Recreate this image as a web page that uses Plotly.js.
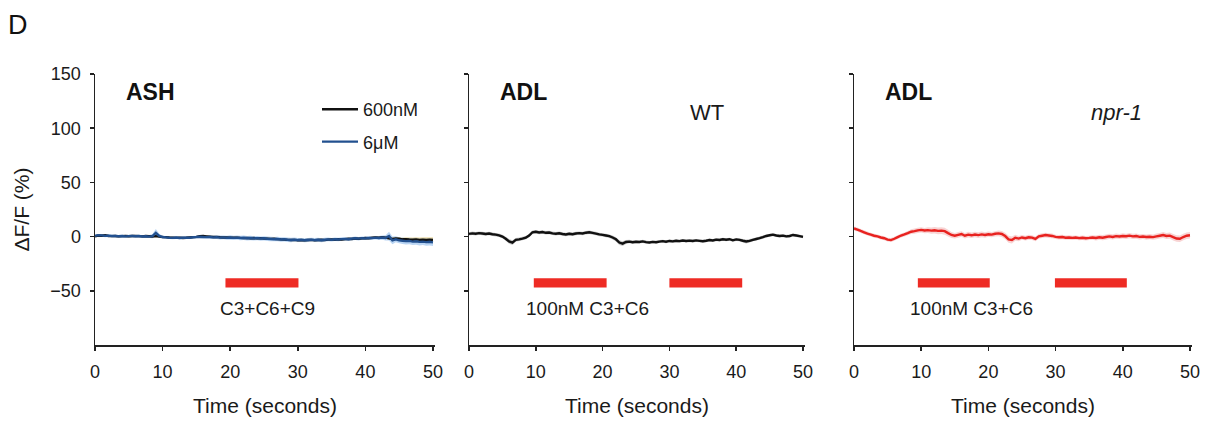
<!DOCTYPE html>
<html><head><meta charset="utf-8">
<script src="https://cdn.plot.ly/plotly-3.0.1.min.js"></script>
<style>html,body{margin:0;padding:0;background:#fff;} #chart{width:1206px;height:421px;}</style>
</head><body><div id="chart"></div>
<script>
// ---------- data ----------
const time = [
  0,0.5,1,1.5,2,2.5,3,3.5,4,4.5,
  5,5.5,6,6.5,7,7.5,8,8.5,9,9.5,
  10,10.5,11,11.5,12,12.5,13,13.5,14,14.5,
  15,15.5,16,16.5,17,17.5,18,18.5,19,19.5,
  20,20.5,21,21.5,22,22.5,23,23.5,24,24.5,
  25,25.5,26,26.5,27,27.5,28,28.5,29,29.5,
  30,30.5,31,31.5,32,32.5,33,33.5,34,34.5,
  35,35.5,36,36.5,37,37.5,38,38.5,39,39.5,
  40,40.5,41,41.5,42,42.5,43,43.5,44,44.5,
  45,45.5,46,46.5,47,47.5,48,48.5,49,49.5,
  50];

// Panel 1: ASH, 600nM (black)
const ash600 = [
  0.3,1.0,0.8,1.2,0.6,0.4,0.5,0.2,0.4,0.6,
  0.3,0.5,0.7,0.4,0.2,0.5,0.3,0.1,0.4,0.0,
  -0.3,-0.5,-0.8,-1.0,-1.2,-1.0,-1.3,-1.1,-0.8,-0.5,
  -0.2,0.3,0.5,0.2,-0.1,-0.4,-0.3,-0.6,-0.8,-0.7,
  -0.9,-1.1,-0.9,-1.2,-1.4,-1.2,-1.5,-1.3,-1.6,-1.4,
  -1.7,-1.9,-2.1,-2.0,-2.3,-2.6,-2.8,-3.0,-3.2,-3.0,
  -3.3,-3.1,-3.4,-3.2,-3.0,-3.3,-3.1,-2.9,-3.2,-2.8,
  -2.6,-2.9,-2.5,-2.7,-2.3,-2.0,-2.2,-1.8,-2.0,-1.6,
  -1.3,-1.5,-1.1,-0.8,-1.0,-0.6,-0.9,-1.5,-2.2,-1.8,
  -2.0,-2.5,-2.3,-2.7,-2.9,-2.6,-3.0,-2.8,-3.1,-2.9,
  -3.0];
const ash600Sem = [
  0.8,0.8,0.8,0.8,0.8,0.8,0.8,0.8,0.8,0.8,
  0.8,0.8,0.8,0.8,0.8,0.8,0.8,0.8,0.8,0.8,
  0.8,0.8,0.8,0.8,0.8,0.8,0.8,0.8,0.8,0.8,
  0.8,0.8,0.8,0.8,0.8,0.8,0.8,0.8,0.8,0.8,
  0.8,0.8,0.8,0.8,0.8,0.8,0.8,0.8,0.8,0.8,
  0.8,0.8,0.8,0.8,0.8,0.8,0.8,0.8,0.8,0.8,
  0.8,0.8,0.8,0.8,0.8,0.8,0.8,0.8,0.8,0.8,
  0.8,0.8,0.8,0.8,0.8,0.8,0.8,0.8,0.8,0.8,
  0.8,0.8,0.8,0.8,0.8,0.8,1.0,1.2,1.2,1.2,
  1.2,1.4,1.6,1.8,2.0,2.0,2.2,2.2,2.4,2.4,
  2.4];

// Panel 1: ASH, 6µM (blue)
const ash6u = [
  0.6,1.3,1.1,0.7,0.9,0.5,0.6,0.3,0.5,0.2,
  0.4,0.6,0.3,0.5,0.1,0.3,0.0,0.4,3.5,0.6,
  -0.4,-0.7,-1.0,-1.2,-0.9,-1.3,-1.1,-0.9,-1.0,-0.6,
  -0.4,-0.1,-0.3,-0.5,-0.4,-0.7,-0.5,-0.9,-0.7,-1.0,
  -0.8,-1.2,-1.0,-1.3,-1.1,-1.5,-1.3,-1.6,-1.4,-1.8,
  -1.6,-2.0,-2.2,-2.4,-2.2,-2.7,-2.5,-2.9,-3.1,-2.8,
  -3.2,-3.0,-3.4,-3.1,-2.8,-3.2,-2.9,-3.3,-2.9,-2.6,
  -2.9,-2.5,-2.7,-2.3,-2.1,-2.4,-1.9,-1.6,-1.9,-1.4,
  -1.6,-1.2,-1.4,-1.0,-1.3,-0.9,-1.2,0.5,-3.5,-2.5,
  -3.4,-3.8,-4.2,-4.0,-4.6,-4.3,-4.9,-4.6,-5.1,-4.8,
  -5.3];
const ash6uSem = [
  1.2,1.2,1.2,1.2,1.2,1.2,1.2,1.2,1.2,1.2,
  1.2,1.2,1.2,1.2,1.2,1.2,1.4,2.0,3.5,2.0,
  1.2,1.2,1.2,1.2,1.2,1.2,1.2,1.2,1.2,1.2,
  1.2,1.2,1.4,1.4,1.6,1.6,1.8,1.8,1.8,1.8,
  2.0,2.0,2.0,2.0,2.0,2.0,2.0,2.0,2.0,2.0,
  2.0,2.0,2.0,2.0,2.0,2.0,2.0,2.0,2.0,2.0,
  1.8,1.8,1.8,1.8,1.8,1.8,1.8,1.8,1.8,1.8,
  1.6,1.6,1.6,1.6,1.6,1.6,1.6,1.6,1.6,1.6,
  1.6,1.6,1.6,1.6,1.8,2.0,2.4,4.0,3.5,2.8,
  2.8,3.0,3.0,3.0,3.2,3.2,3.2,3.2,3.4,3.4,
  3.4];

// Panel 2: ADL, WT (black)
const adlWT = [
  2.5,3.0,2.6,3.2,2.8,2.4,2.9,2.2,1.8,1.2,
  0.0,-2.0,-4.5,-5.5,-3.0,-2.5,-1.8,-1.0,1.0,4.0,
  4.5,3.8,4.2,3.5,3.8,3.0,2.6,3.1,2.4,2.0,
  2.6,2.2,2.8,3.2,2.9,3.6,4.0,3.4,2.8,2.0,
  1.6,1.0,0.4,-0.8,-2.5,-5.5,-6.5,-5.0,-4.6,-5.2,
  -4.8,-5.0,-4.4,-5.1,-5.4,-4.9,-5.2,-4.6,-4.2,-4.7,
  -4.0,-4.4,-3.8,-4.2,-3.6,-4.0,-3.7,-4.1,-3.5,-3.9,
  -4.3,-3.8,-3.2,-3.6,-2.8,-3.1,-2.5,-2.9,-2.4,-3.4,
  -2.6,-3.0,-3.8,-4.5,-3.9,-3.0,-2.2,-1.4,-0.5,0.6,
  1.2,1.8,1.0,0.6,0.9,0.2,0.6,1.5,1.0,0.4,
  -0.2];
const adlWTSem = [
  1.6,1.6,1.6,1.6,1.6,1.6,1.6,1.6,1.6,1.6,
  1.6,1.8,2.2,2.2,1.8,1.6,1.6,1.6,1.6,1.6,
  1.6,1.6,1.6,1.6,1.6,1.6,1.6,1.6,1.6,1.6,
  1.6,1.6,1.6,1.6,1.6,1.6,1.6,1.6,1.6,1.6,
  1.6,1.6,1.6,1.8,2.0,2.2,2.2,1.8,1.6,1.6,
  1.4,1.4,1.4,1.4,1.4,1.4,1.4,1.4,1.4,1.4,
  1.4,1.4,1.4,1.4,1.4,1.4,1.4,1.4,1.4,1.4,
  1.4,1.4,1.4,1.4,1.4,1.4,1.4,1.4,1.4,1.4,
  1.4,1.4,1.6,1.8,1.6,1.4,1.4,1.4,1.4,1.4,
  1.4,1.4,1.4,1.4,1.4,1.4,1.4,1.4,1.4,1.4,
  1.4];

// Panel 3: ADL, npr-1 (red)
const adlNpr = [
  7.5,6.5,5.2,4.0,2.8,1.8,0.8,0.2,-0.8,-1.5,
  -2.8,-3.2,-2.0,-0.5,1.0,2.0,3.2,4.5,5.0,5.8,
  6.2,5.6,6.0,5.5,5.8,5.3,5.5,5.0,3.2,1.5,
  0.8,1.6,2.4,0.8,1.8,1.2,1.9,1.4,2.0,1.5,
  2.2,1.8,2.6,3.0,2.4,0.5,-2.5,-3.2,-1.0,-1.8,
  -0.8,-1.5,-0.6,-1.0,-2.2,0.2,0.8,1.4,1.0,0.6,
  -0.2,-0.6,-0.4,-1.0,-0.8,-1.2,-0.9,-1.4,-1.1,-1.5,
  -1.2,-0.8,-1.3,-0.6,-1.0,-0.4,0.2,-0.3,0.4,0.1,
  0.6,0.3,0.9,0.2,0.5,-0.2,0.1,-0.4,-0.1,-0.5,
  0.2,0.8,1.4,0.6,0.9,-0.5,-1.8,-2.0,-0.4,0.8,
  1.2];
const adlNprSem = [
  1.8,1.8,1.8,1.8,1.8,1.8,1.8,1.8,1.8,1.8,
  1.8,1.8,1.8,1.8,1.8,1.8,2.0,2.2,2.4,2.4,
  2.4,2.4,2.6,2.8,3.0,3.2,3.2,3.2,3.2,2.8,
  2.6,2.6,2.6,2.6,2.6,2.6,2.6,2.6,2.6,2.6,
  2.4,2.4,2.4,2.6,2.8,3.0,3.2,3.2,2.8,2.4,
  2.2,2.2,2.2,2.2,2.2,2.2,2.2,2.2,2.2,2.2,
  2.0,2.0,2.0,2.0,2.0,2.0,2.0,2.0,2.0,2.0,
  2.0,2.0,2.2,2.2,2.4,2.4,2.4,2.4,2.4,2.4,
  2.4,2.4,2.4,2.4,2.4,2.4,2.4,2.4,2.4,2.4,
  2.6,2.6,2.8,2.8,2.8,3.0,3.0,3.0,3.0,3.0,
  3.0];

// stimulus periods (seconds) per panel
const stimPanel1 = [[19.3, 30.1]];
const stimPanel2 = [[9.7, 20.6], [30.0, 40.9]];
const stimPanel3 = [[9.5, 20.2], [29.9, 40.6]];
const stimLabels = ['C3+C6+C9', '100nM C3+C6', '100nM C3+C6'];
const stimLabelX = [25.5, 17.7, 17.5];
const neuronLabels = ['ASH', 'ADL', 'ADL'];
const strainLabels = ['', 'WT', 'npr-1'];
const strainLabelX = [0, 35.7, 39.1];
const legendNames = ['600nM', '6μM'];
const xTickVals = [0, 10, 20, 30, 40, 50];
const yTickVals = [-50, 0, 50, 100, 150];
const panelLetter = 'D';

// ---------- drawing ----------
const FONT = 'Liberation Sans, Arial, Helvetica, sans-serif';
const W = 1206, H = 421;

function band(m, s, xa, ya, fill) {
  const up = m.map((v, i) => v + s[i]);
  const lo = m.map((v, i) => v - s[i]).reverse();
  return {
    type: 'scatter', mode: 'lines', x: time.concat(time.slice().reverse()),
    y: up.concat(lo), fill: 'toself', fillcolor: fill,
    line: {width: 0, color: 'rgba(0,0,0,0)', simplify: false}, hoverinfo: 'skip',
    showlegend: false, xaxis: xa, yaxis: ya
  };
}
function line(m, xa, ya, color, name, show) {
  return {
    type: 'scatter', mode: 'lines', x: time, y: m, name: name,
    line: {color: color, width: 2.4, simplify: false}, showlegend: !!show,
    legendgroup: name, xaxis: xa, yaxis: ya
  };
}

const data = [
  band(ash6u, ash6uSem, 'x', 'y', 'rgba(140,185,235,0.6)'),
  band(ash600, ash600Sem, 'x', 'y', 'rgba(225,200,120,0.6)'),
  line(ash600, 'x', 'y', '#111111', legendNames[0], true),
  line(ash6u, 'x', 'y', '#22508f', legendNames[1], true),
  band(adlWT, adlWTSem, 'x2', 'y2', 'rgba(150,150,150,0.5)'),
  line(adlWT, 'x2', 'y2', '#111111', 'WT', false),
  band(adlNpr, adlNprSem, 'x3', 'y3', 'rgba(240,160,160,0.45)'),
  line(adlNpr, 'x3', 'y3', '#e8221f', 'npr-1', false)
];

const domainsPx = [[95, 435], [469, 805], [854, 1192]];
const yDom = [1 - 345 / H, 1 - 74 / H];

function xaxis(i) {
  return {
    domain: [domainsPx[i][0] / W, domainsPx[i][1] / W],
    range: [0, 50.3], anchor: i === 0 ? 'y' : 'y' + (i + 1),
    tickvals: xTickVals, ticks: 'outside', ticklen: 4, tickwidth: 1.5,
    tickcolor: '#222', showline: true, linecolor: '#222', linewidth: 1.5,
    showgrid: false, zeroline: false, ticklabelstandoff: 6,
    tickfont: {family: FONT, size: 18, color: '#1a1a1a'},
    title: {text: 'Time (seconds)', standoff: 17,
            font: {family: FONT, size: 21, color: '#1a1a1a'}}
  };
}
function yaxis(i) {
  const ax = {
    domain: yDom, range: [-100, 150], anchor: i === 0 ? 'x' : 'x' + (i + 1),
    tickvals: yTickVals, ticks: 'outside', ticklen: 4, tickwidth: 1.5,
    tickcolor: '#222', showline: true, linecolor: '#222', linewidth: 1.5,
    showgrid: false, zeroline: false, showticklabels: i === 0,
    ticklabelstandoff: 5,
    tickfont: {family: FONT, size: 18, color: '#1a1a1a'}
  };
  if (i === 0) ax.title = {text: 'ΔF/F (%)', standoff: 15,
                           font: {family: FONT, size: 21, color: '#1a1a1a'}};
  return ax;
}

const stims = [stimPanel1, stimPanel2, stimPanel3];
const shapes = [];
const annotations = [];
stims.forEach((list, i) => {
  const xr = i === 0 ? 'x' : 'x' + (i + 1);
  const yr = i === 0 ? 'y' : 'y' + (i + 1);
  list.forEach(p => shapes.push({
    type: 'rect', xref: xr, yref: yr, x0: p[0], x1: p[1], y0: -38.5, y1: -47,
    fillcolor: '#ee2b24', line: {width: 0}
  }));
  annotations.push({xref: xr, yref: yr, x: stimLabelX[i], y: -66, text: stimLabels[i],
    showarrow: false, font: {family: FONT, size: 19, color: '#1a1a1a'}});
  annotations.push({xref: xr, yref: yr, x: 4.3, y: 133, xanchor: 'left',
    text: '<b>' + neuronLabels[i] + '</b>', showarrow: false,
    font: {family: FONT, size: 23, color: '#111'}});
  if (strainLabels[i]) {
    annotations.push({xref: xr, yref: yr, x: strainLabelX[i], y: 114.5,
      text: i === 2 ? '<i>' + strainLabels[i] + '</i>' : strainLabels[i],
      showarrow: false, font: {family: FONT, size: 22, color: '#1a1a1a'}});
  }
});
annotations.push({xref: 'paper', yref: 'paper', x: 6 / W, y: 1 - 25 / H,
  xanchor: 'left', yanchor: 'middle', text: panelLetter, showarrow: false,
  font: {family: FONT, size: 27, color: '#111'}});

const layout = {
  width: W, height: H, margin: {l: 0, r: 0, t: 0, b: 0},
  paper_bgcolor: '#fff', plot_bgcolor: '#fff',
  font: {family: FONT, color: '#1a1a1a'},
  xaxis: xaxis(0), xaxis2: xaxis(1), xaxis3: xaxis(2),
  yaxis: yaxis(0), yaxis2: yaxis(1), yaxis3: yaxis(2),
  showlegend: true,
  legend: {x: 317 / W, y: 1 - 91 / H, xanchor: 'left', yanchor: 'top',
    bgcolor: 'rgba(0,0,0,0)', borderwidth: 0, traceorder: 'grouped',
    tracegroupgap: 6, itemwidth: 36,
    font: {family: FONT, size: 18, color: '#1a1a1a'}},
  shapes: shapes, annotations: annotations
};

Plotly.newPlot('chart', data, layout, {displayModeBar: false, staticPlot: true});
</script>
</body></html>
